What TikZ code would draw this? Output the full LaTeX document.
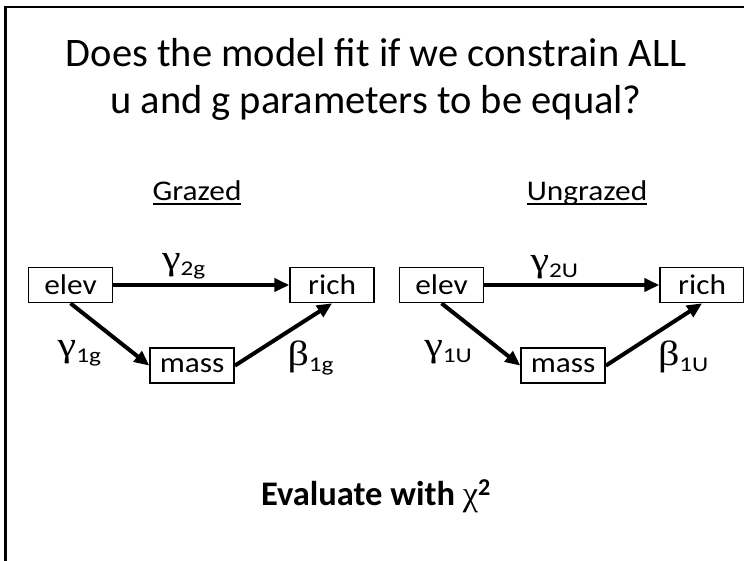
\documentclass[tikz,border=0pt]{standalone}
\usepackage{fontspec}
\setmainfont{Carlito}
\newfontfamily\greekfont{Liberation Serif}
\usepackage{graphicx}
\usetikzlibrary{arrows.meta,positioning}

\newcommand{\wtext}[1]{\scalebox{1.1}[1]{#1}}
\newcommand{\ulabel}[1]{\setbox0=\hbox{#1}\rlap{\rule[-5pt]{\wd0}{1.6pt}}\box0}
\newcommand{\glab}[2]{\scalebox{1.2}[1]{{\greekfont\fontsize{35}{35}\selectfont #1}\raisebox{-6pt}{\fontsize{21}{21}\selectfont #2}}}

\begin{document}
\begin{tikzpicture}[
  x=1pt, y=-1pt,
  box/.style={
    draw,
    line width=1.6pt,
    inner sep=0pt,
    minimum width=84pt,
    minimum height=35pt,
    font=\fontsize{28.5}{28.5}\selectfont
  },
  lab/.style={inner sep=0pt},
  head/.style={font=\fontsize{28.5}{28.5}\selectfont, inner sep=0pt, anchor=base},
  arr/.style={-{Triangle[length=15pt, width=13pt]}, line width=4pt}
]
\useasboundingbox (0,0) rectangle (744,560);
\draw[line width=2.5pt] (5.5,580) |- (760,7);

\node[font=\fontsize{40.5}{47}\selectfont, align=center, anchor=base, inner sep=0pt] (title) at (376,113)
  {Does the model fit if we constrain ALL\\u and g parameters to be equal?};

% grazed
\node[head] (hg) at (197,200) {\wtext{\ulabel{Grazed}}};
\node[box] (elevg) at (70.5,285) {\wtext{elev}};
\node[box, right=176pt of elevg] (richg) {\wtext{rich}};
\node[box, below right=44pt and 36pt of elevg] (massg) {\wtext{mass}};

\draw[arr] (elevg) -- node[lab, pos=0.4, above=4pt] (g2g) {\glab{γ}{2g}} (richg);
\draw[arr] (elevg.south) -- node[lab, below left=4pt and 7pt] (g1g) {\glab{γ}{1g}} (massg.west);
\draw[arr] (massg.east) -- node[lab, below right=4pt and 2pt] (b1g) {\glab{β}{1g}} (richg.south);

% ungrazed
\node[head] (hu) at (587,200) {\wtext{\ulabel{Ungrazed}}};
\node[box] (elevu) at (441.5,285) {\wtext{elev}};
\node[box, right=175pt of elevu] (richu) {\wtext{rich}};
\node[box, below right=44pt and 36pt of elevu] (massu) {\wtext{mass}};

\draw[arr] (elevu) -- node[lab, pos=0.4, above=4pt] (g2u) {\glab{γ}{2U}} (richu);
\draw[arr] (elevu.south) -- node[lab, below left=4pt and 7pt] (g1u) {\glab{γ}{1U}} (massu.west);
\draw[arr] (massu.east) -- node[lab, below right=4pt and 2pt] (b1u) {\glab{β}{1U}} (richu.south);

\node[font=\bfseries\fontsize{34.5}{34.5}\selectfont, anchor=base, inner sep=0pt] (eval) at (376,505)
  {Evaluate with {\greekfont\mdseries χ}\textsuperscript{2}};
\end{tikzpicture}
\end{document}
